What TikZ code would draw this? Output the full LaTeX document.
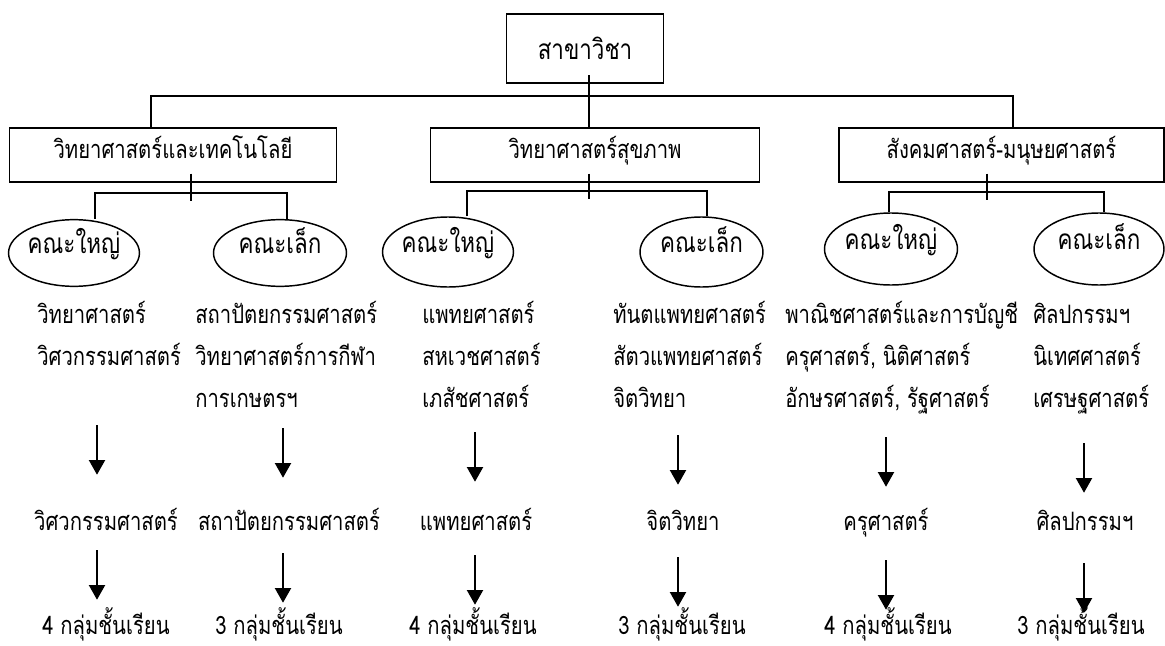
\documentclass[tikz,border=0pt]{standalone}
\usepackage{fontspec}
\newfontfamily\thaifont[Script=Thai,FakeStretch=0.8]{Loma}
\usetikzlibrary{shapes.geometric,arrows.meta}
\tikzset{
  box/.style={draw,line width=1.2pt,inner sep=0pt,font=\fontsize{19pt}{23pt}\thaifont},
  faculty/.style={draw,ellipse,line width=1.1pt,inner sep=0pt,text height=8pt,text depth=8pt,font=\fontsize{21pt}{24pt}\thaifont},
  txt/.style={inner sep=0pt,font=\fontsize{19pt}{23pt}\thaifont},
  tree/.style={line width=1.3pt},
  arr/.style={line width=1.5pt,-{Triangle[width=12pt,length=11pt]}}
}
\begin{document}
\begin{tikzpicture}[x=0.75pt,y=-0.75pt]
\useasboundingbox (0,0) rectangle (1165,646);
%boxes
\node[box,anchor=north,minimum width=118pt,text height=34.4pt,text depth=17.4pt,font=\fontsize{21pt}{24pt}\thaifont] (field) at (585,13) {สาขาวิชา};
\node[box,anchor=north,minimum width=245pt,text height=22.7pt,text depth=17.8pt] (sci) at (173,127) {วิทยาศาสตร์และเทคโนโลยี};
\node[box,anchor=north,minimum width=247pt,text height=22.7pt,text depth=17.8pt] (health) at (595,127) {วิทยาศาสตร์สุขภาพ};
\node[box,anchor=north,minimum width=243.5pt,text height=22.7pt,text depth=17.8pt] (soc) at (1001.5,127) {สังคมศาสตร์-มนุษยศาสตร์};
%faculties
\node[faculty,minimum width=85.5pt,minimum height=50pt] (sciB) at (74,253) {คณะใหญ่};
\node[faculty,minimum width=99.75pt,minimum height=50pt] (sciS) at (280,253) {คณะเล็ก};
\node[faculty,minimum width=84.75pt,minimum height=52.5pt] (healthB) at (448,252) {คณะใหญ่};
\node[faculty,minimum width=92.25pt,minimum height=52.5pt] (healthS) at (701.5,252) {คณะเล็ก};
\node[faculty,minimum width=99.75pt,minimum height=54pt] (socB) at (891,249) {คณะใหญ่};
\node[faculty,minimum width=97.5pt,minimum height=54pt] (socS) at (1099,249) {คณะเล็ก};
%tree
\coordinate (trunk) at (589,96);
\coordinate (busL) at (151,96);
\coordinate (busR) at (1013,96);
\draw[tree] ([yshift=6.5pt]trunk |- field.south) -- (trunk |- health.north);
\draw[tree] (busL |- sci.north) -- (busL) -- (busR) -- (busR |- soc.north);
\foreach \b/\x/\y/\l/\r in {sci/191/193/95/287, health/589/191/467/707, soc/987/192/889/1104}{
  \coordinate (\b J) at (\x,\y);
  \coordinate (\b L) at (\l,\y);
  \coordinate (\b R) at (\r,\y);
  \draw[tree] ([yshift=6.75pt]\b J |- \b.south) -- ([yshift=-6pt]\b J);
  \draw[tree] (\b L |- \b B.north) -- (\b L) -- (\b R) -- (\b R |- \b S.north);
}
%lists
\foreach \t [count=\i] in {วิทยาศาสตร์, วิศวกรรมศาสตร์}
  \node[txt,anchor=base west] (listA\i) at (37,{281+42*\i}) {\t};
\foreach \t [count=\i] in {สถาปัตยกรรมศาสตร์, วิทยาศาสตร์การกีฬา, การเกษตรฯ}
  \node[txt,anchor=base west] (listB\i) at (195,{281+42*\i}) {\t};
\foreach \t [count=\i] in {แพทยศาสตร์, สหเวชศาสตร์, เภสัชศาสตร์}
  \node[txt,anchor=base west] (listC\i) at (422,{281+42*\i}) {\t};
\foreach \t [count=\i] in {ทันตแพทยศาสตร์, สัตวแพทยศาสตร์, จิตวิทยา}
  \node[txt,anchor=base west] (listD\i) at (613,{281+42*\i}) {\t};
\foreach \t [count=\i] in {พาณิชศาสตร์และการบัญชี, {ครุศาสตร์, นิติศาสตร์}, {อักษรศาสตร์, รัฐศาสตร์}}
  \node[txt,anchor=base west] (listE\i) at (785,{281+42*\i}) {\t};
\foreach \t [count=\i] in {ศิลปกรรมฯ, นิเทศศาสตร์, เศรษฐศาสตร์}
  \node[txt,anchor=base west] (listF\i) at (1033,{281+42*\i}) {\t};
%picks and groups
\foreach \c/\x/\t in {A/106/วิศวกรรมศาสตร์, B/289/สถาปัตยกรรมศาสตร์, C/476/แพทยศาสตร์, D/683/จิตวิทยา, E/886/ครุศาสตร์, F/1085/ศิลปกรรมฯ}
  \node[txt,anchor=base,text height=11.25pt,text depth=3.75pt] (pick\c) at (\x,530) {\t};
\foreach \c/\x/\n in {A/106/4, B/279/3, C/473/4, D/682/3, E/888/4, F/1081/3}
  \node[txt,anchor=base,text height=11.25pt,text depth=3.75pt] (grp\c) at (\x,634) {\n{} กลุ่มชั้นเรียน};
%arrows
\foreach \c/\x/\a/\b in {A/97/425/550, B/283/428/553, C/475/432/555, D/678/435/557, E/886/437/560, F/1084/443/563}{
  \coordinate (up\c) at (\x,\a);
  \coordinate (lo\c) at (\x,\b);
  \pgfmathsetmacro\sa{(465-\a)*0.75}
  \pgfmathsetmacro\sb{(569-\b)*0.75}
  \draw[arr,shorten >=\sa pt] (up\c) -- (up\c |- pick\c.north);
  \draw[arr,shorten >=\sb pt] (lo\c) -- (lo\c |- grp\c.north);
}
\end{tikzpicture}
\end{document}
